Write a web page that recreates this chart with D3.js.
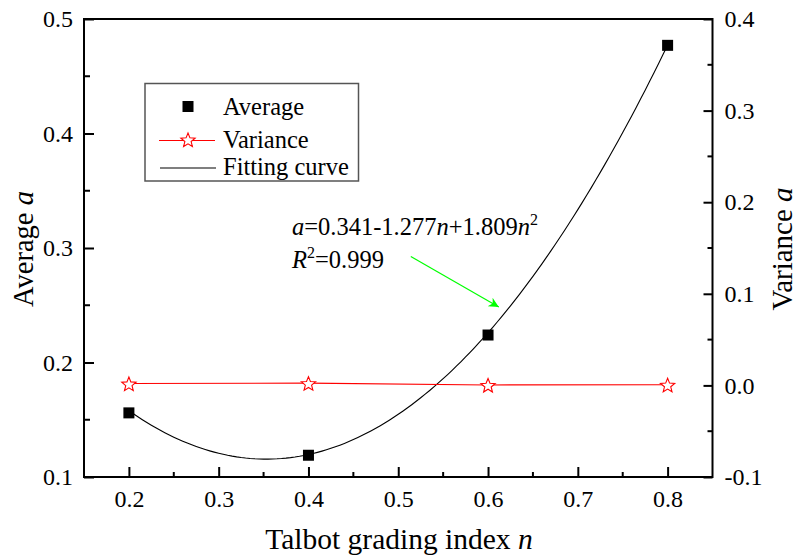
<!DOCTYPE html>
<html>
<head>
<meta charset="utf-8">
<script src="https://cdn.jsdelivr.net/npm/d3@7/dist/d3.min.js"></script>
<style>
  html, body { margin: 0; padding: 0; background: #fff; }
  svg text { font-family: "Liberation Serif", "Times New Roman", Times, serif !important; }
</style>
</head>
<body>
<svg id="chart" width="798" height="557"></svg>
<script>
// Talbot grading index n
const gradingIndex = [0.2, 0.4, 0.6, 0.8];
// Average a (left axis)
const averageValues = [0.156, 0.119, 0.224, 0.477];
// Variance a (right axis)
const varianceValues = [0.0020, 0.0025, 0.0005, 0.0007];
// Quadratic fit a = c0 + c1*n + c2*n^2
const fitCoefficients = [0.341, -1.277, 1.809];
const fitLabel = ["0.341", "-1.277", "+1.809"];
const rSquared = "0.999";

const xTicks = [0.2, 0.3, 0.4, 0.5, 0.6, 0.7, 0.8];
const leftTicks = [0.1, 0.2, 0.3, 0.4, 0.5];
const rightTicks = [-0.1, 0.0, 0.1, 0.2, 0.3, 0.4];

const svg = d3.select("#chart");
const m = { left: 84, right: 712.5, top: 19, bottom: 477 };

const x = d3.scaleLinear().domain([0.15, 0.85]).range([m.left, m.right]);
const yL = d3.scaleLinear().domain([0.1, 0.5]).range([m.bottom, m.top]);
const yR = d3.scaleLinear().domain([-0.1, 0.4]).range([m.bottom, m.top]);

const tickFont = 24;
const fmt = d => d3.format(".1f")(d).replace("\u2212", "-");

// frame
svg.append("rect")
  .attr("x", m.left).attr("y", m.top)
  .attr("width", m.right - m.left).attr("height", m.bottom - m.top)
  .attr("fill", "none").attr("stroke", "#000").attr("stroke-width", 2);

// minor ticks halfway between majors
function minors(ticks) {
  const out = [];
  for (let i = 0; i < ticks.length - 1; i++) out.push((ticks[i] + ticks[i + 1]) / 2);
  return out;
}

// bottom axis (ticks inward)
const bottomAxis = d3.axisBottom(x).tickValues(xTicks).tickFormat(fmt)
  .tickSizeInner(-10).tickSizeOuter(0).tickPadding(0);
const gB = svg.append("g").attr("transform", `translate(0,${m.bottom})`).call(bottomAxis);
gB.attr("font-family", null);
gB.select(".domain").remove();
gB.selectAll("line").attr("stroke-width", 2);
gB.selectAll("text").attr("font-size", tickFont)
  .attr("y", 30).attr("dy", 0).attr("fill", "#000");
svg.append("g").selectAll("line").data(minors(xTicks))
  .join("line")
  .attr("x1", d => x(d)).attr("x2", d => x(d))
  .attr("y1", m.bottom).attr("y2", m.bottom - 5)
  .attr("stroke", "#000").attr("stroke-width", 2);

// left axis (ticks inward)
const leftAxis = d3.axisLeft(yL).tickValues(leftTicks).tickFormat(fmt)
  .tickSizeInner(-10).tickSizeOuter(0).tickPadding(11);
const gL = svg.append("g").attr("transform", `translate(${m.left},0)`).call(leftAxis);
gL.attr("font-family", null);
gL.select(".domain").remove();
gL.selectAll("line").attr("stroke-width", 2);
gL.selectAll("text").attr("font-size", tickFont).attr("fill", "#000");
svg.append("g").selectAll("line").data(minors(leftTicks)).join("line")
  .attr("x1", m.left).attr("x2", m.left + 6)
  .attr("y1", d => yL(d)).attr("y2", d => yL(d))
  .attr("stroke", "#000").attr("stroke-width", 2);

// right axis (ticks inward)
const rightAxis = d3.axisRight(yR).tickValues(rightTicks).tickFormat(fmt)
  .tickSizeInner(-9).tickSizeOuter(0).tickPadding(12);
const gR = svg.append("g").attr("transform", `translate(${m.right},0)`).call(rightAxis);
gR.attr("font-family", null);
gR.select(".domain").remove();
gR.selectAll("line").attr("stroke-width", 2);
gR.selectAll("text").attr("font-size", tickFont).attr("fill", "#000");
svg.append("g").selectAll("line").data(minors(rightTicks)).join("line")
  .attr("x1", m.right).attr("x2", m.right - 5)
  .attr("y1", d => yR(d)).attr("y2", d => yR(d))
  .attr("stroke", "#000").attr("stroke-width", 2);

// axis titles
svg.append("text")
  .attr("x", 399).attr("y", 549)
  .attr("text-anchor", "middle").attr("font-size", 29.5)
  .html('Talbot grading index <tspan font-style="italic">n</tspan>');
svg.append("text")
  .attr("transform", "translate(33,249) rotate(-90)")
  .attr("text-anchor", "middle").attr("font-size", 28.5)
  .html('Average <tspan font-style="italic">a</tspan>');
svg.append("text")
  .attr("transform", "translate(792,249) rotate(-90)")
  .attr("text-anchor", "middle").attr("font-size", 29)
  .html('Variance <tspan font-style="italic">a</tspan>');

// fitting curve from the stated coefficients
const fitN = d3.range(0.2, 0.8 + 1e-9, 0.005);
const fitVal = n => fitCoefficients[0] + fitCoefficients[1] * n + fitCoefficients[2] * n * n;
svg.append("path")
  .datum(fitN)
  .attr("d", d3.line().x(n => x(n)).y(n => yL(fitVal(n))))
  .attr("fill", "none").attr("stroke", "#000").attr("stroke-width", 1.1);

// variance line and star markers
const varData = gradingIndex.map((n, i) => ({ n, v: varianceValues[i] }));
svg.append("path")
  .datum(varData)
  .attr("d", d3.line().x(d => x(d.n)).y(d => yR(d.v)))
  .attr("fill", "none").attr("stroke", "#ff0000").attr("stroke-width", 1.1);

function starPath(R, r) {
  const pts = [];
  for (let i = 0; i < 10; i++) {
    const ang = -Math.PI / 2 + i * Math.PI / 5;
    const rad = i % 2 === 0 ? R : r;
    pts.push([rad * Math.cos(ang), rad * Math.sin(ang)]);
  }
  return "M" + pts.map(p => p.join(",")).join("L") + "Z";
}
const star = starPath(7.5, 3.3);
svg.append("g").selectAll("path").data(varData).join("path")
  .attr("d", star)
  .attr("transform", d => `translate(${x(d.n)},${yR(d.v) + 1})`)
  .attr("fill", "#fff").attr("stroke", "#ff0000").attr("stroke-width", 1.1);

// average markers
const sq = 11;
svg.append("g").selectAll("rect").data(gradingIndex.map((n, i) => ({ n, a: averageValues[i] })))
  .join("rect")
  .attr("x", d => x(d.n) - sq / 2).attr("y", d => yL(d.a) - sq / 2)
  .attr("width", sq).attr("height", sq).attr("fill", "#000");

// legend
const lg = svg.append("g");
lg.append("rect").attr("x", 145).attr("y", 83.5).attr("width", 213.5).attr("height", 97.5)
  .attr("fill", "#fff").attr("stroke", "#555").attr("stroke-width", 1.5);
lg.append("rect").attr("x", 188 - sq / 2).attr("y", 106.5 - sq / 2).attr("width", sq).attr("height", sq).attr("fill", "#000");
lg.append("line").attr("x1", 159).attr("x2", 215).attr("y1", 140.5).attr("y2", 140.5)
  .attr("stroke", "#ff0000").attr("stroke-width", 1.1);
lg.append("path").attr("d", star).attr("transform", "translate(188,140.5)")
  .attr("fill", "#fff").attr("stroke", "#ff0000").attr("stroke-width", 1.1);
lg.append("line").attr("x1", 160).attr("x2", 216).attr("y1", 168).attr("y2", 168)
  .attr("stroke", "#555").attr("stroke-width", 1.5);
const legendLabels = ["Average", "Variance", "Fitting curve"];
const legendBase = [115, 148, 175];
lg.selectAll("text.lab").data(legendLabels).join("text")
  .attr("class", "lab")
  .attr("x", 223).attr("y", (d, i) => legendBase[i])
  .attr("font-size", 24.5).text(d => d);

// fit equation annotation
const eq = svg.append("text").attr("x", 292).attr("y", 235).attr("font-size", 24.5);
eq.append("tspan").attr("font-style", "italic").text("a");
eq.append("tspan").text("=" + fitLabel[0] + fitLabel[1]);
eq.append("tspan").attr("font-style", "italic").text("n");
eq.append("tspan").text(fitLabel[2]);
eq.append("tspan").attr("font-style", "italic").text("n");
eq.append("tspan").attr("font-size", 16).attr("dy", -10).text("2");

const r2 = svg.append("text").attr("x", 292).attr("y", 268).attr("font-size", 24.5);
r2.append("tspan").attr("font-style", "italic").text("R");
r2.append("tspan").attr("font-size", 16).attr("dy", -10).text("2");
r2.append("tspan").attr("dy", 10).text("=" + rSquared);

// green arrow pointing at the fitted curve
const arrowFrom = [0.514, 0.2925];
const arrowTo = [0.612, 0.2485];
svg.append("defs").append("marker")
  .attr("id", "gArrow").attr("viewBox", "0 0 10 10").attr("refX", 10).attr("refY", 5)
  .attr("markerWidth", 14).attr("markerHeight", 10).attr("markerUnits", "userSpaceOnUse")
  .attr("orient", "auto")
  .append("path").attr("d", "M0,0L10,5L0,10L3,5Z").attr("fill", "#00ff00");
svg.append("line")
  .attr("x1", x(arrowFrom[0])).attr("y1", yL(arrowFrom[1]))
  .attr("x2", x(arrowTo[0])).attr("y2", yL(arrowTo[1]))
  .attr("stroke", "#00ff00").attr("stroke-width", 1.2)
  .attr("marker-end", "url(#gArrow)");
</script>
</body>
</html>
